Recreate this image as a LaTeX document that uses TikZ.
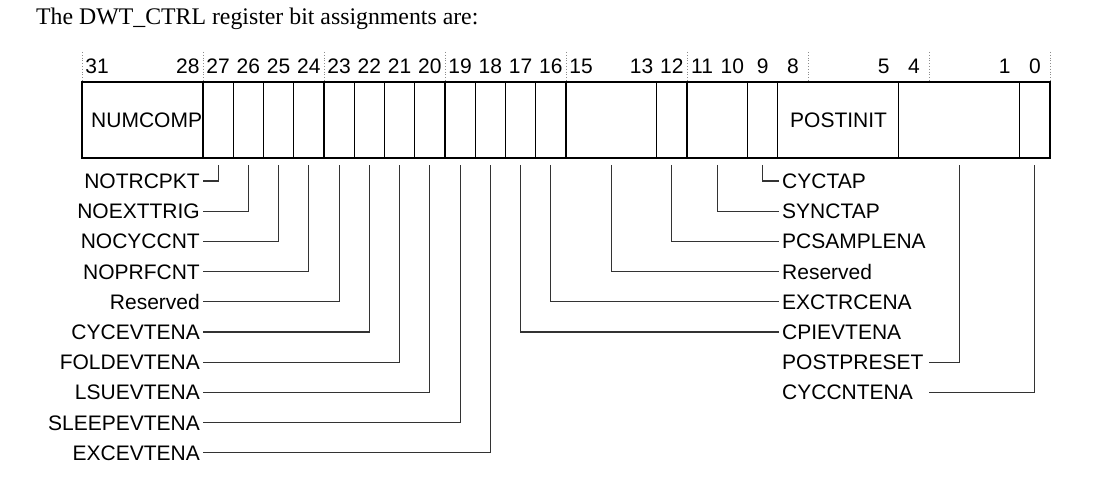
\documentclass[tikz,border=0pt]{standalone}
\usepackage{fontspec}
\setmainfont{Liberation Sans}
\newfontfamily\titlefont{Liberation Serif}
\begin{document}
\begin{tikzpicture}[x=1pt,y=-1pt,
  fieldbox/.style={draw=black, line width=1.3pt, minimum height=76pt, inner sep=0pt, outer sep=0pt},
  bitnum/.style={font=\fontsize{21}{25}\selectfont, inner sep=0pt, text height=15pt, text depth=0pt},
  lbl/.style={font=\fontsize{21}{25}\selectfont, inner sep=0pt, text height=15pt, text depth=0pt},
  leader/.style={draw=black!80, line width=1.1pt},
  guide/.style={draw=black!45, dotted, line width=0.8pt}]
\useasboundingbox (0,0) rectangle (1094,478);

% title
\node[anchor=base west, inner sep=0pt, font=\titlefont\fontsize{23.8}{28}\selectfont] (title) at (36,25) {The DWT\_CTRL register bit assignments are:};

% dotted guides
\foreach \k in {0,...,8}
  \draw[guide] ({82+121*\k},52) -- ({82+121*\k},82);

% register fields
\foreach \hi/\lo in {31/28,27/27,26/26,25/25,24/24,23/23,22/22,21/21,20/20,19/19,18/18,17/17,16/16,15/13,12/12,11/10,9/9,8/5,4/1,0/0}{
  \pgfmathsetmacro\w{(\hi-\lo+1)*30.25}
  \pgfmathsetmacro\cx{82+(31-\hi)*30.25+\w/2}
  \node[fieldbox, minimum width=\w pt] (f\lo) at (\cx,120) {};
}
\draw[line width=2pt] (f28.north west) rectangle (f0.south east);

\node[lbl, anchor=west] (numcomp) at (91,120) {NUMCOMP};
\node[lbl, anchor=west] (postinit) at (790,120) {POSTINIT};

% bit numbers
\foreach \b in {31,28,27,26,25,24,23,22,21,20,19,18,17,16,15,13,12,11,10,9,8,5,4,1,0}
  \node[bitnum] (n\b) at ({82+(31.5-\b)*30.25},66) {\b};

% left labels
\foreach \b/\t/\r in {27/NOTRCPKT/0,26/NOEXTTRIG/1,25/NOCYCCNT/2,24/NOPRFCNT/3,23/Reserved/4,22/CYCEVTENA/5,21/FOLDEVTENA/6,20/LSUEVTENA/7,19/SLEEPEVTENA/8,18/EXCEVTENA/9}{
  \node[lbl, anchor=east] (L\b) at (200,{181+30.2*\r}) {\t};
  \draw[leader] ([xshift=3pt]L\b.east) -| ([yshift=-7pt]f\b.south);
}

% right labels
\foreach \f/\t/\r in {9/CYCTAP/0,10/SYNCTAP/1,12/PCSAMPLENA/2,13/Reserved/3,16/EXCTRCENA/4,17/CPIEVTENA/5}{
  \node[lbl, anchor=west] (R\f) at (782,{181+30.2*\r}) {\t};
  \draw[leader] ([yshift=-7pt]f\f.south) |- ([xshift=-3pt]R\f.west);
}

\node[lbl, anchor=west] (R1) at (782,362.2) {POSTPRESET};
\node[lbl, anchor=west] (R0) at (782,392.4) {CYCCNTENA};
\coordinate (s1) at (929,362.2);
\coordinate (s0) at (929,392.4);
\draw[leader] (s1) -| ([yshift=-7pt]f1.south);
\draw[leader] (s0) -| ([yshift=-7pt]f0.south);
\end{tikzpicture}
\end{document}
